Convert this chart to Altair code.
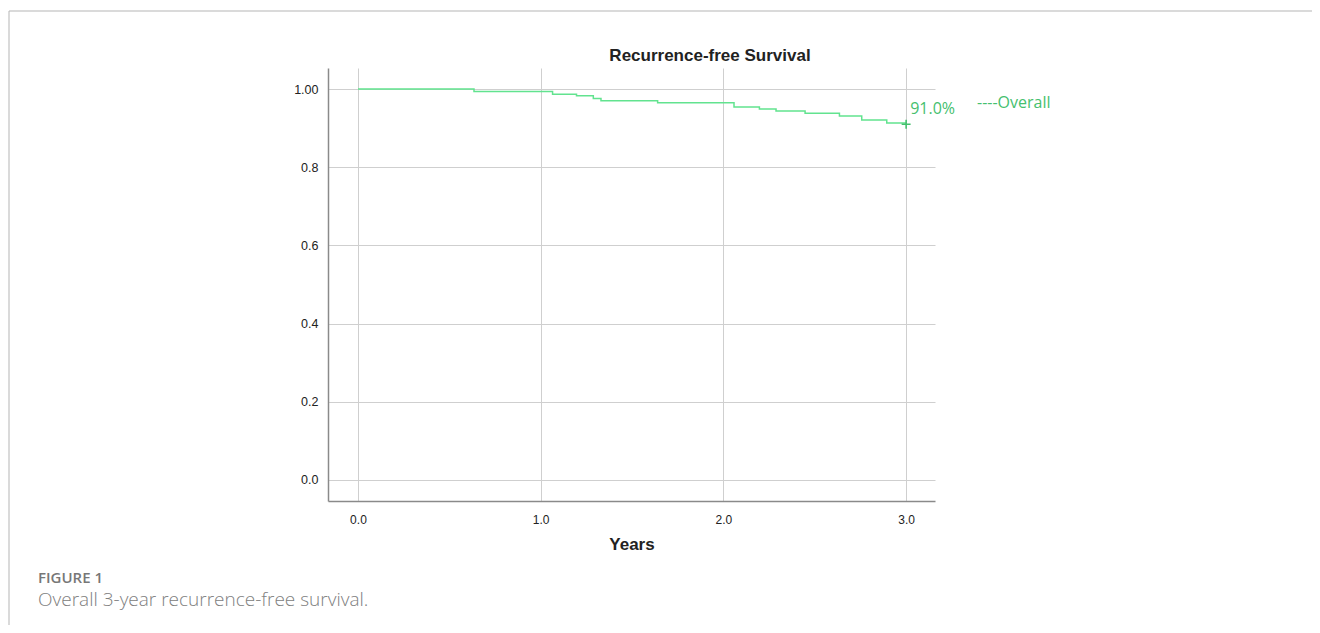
import altair as alt
import pandas as pd

# Kaplan-Meier step curve (years, survival)
years = [0.0, 0.635, 1.065, 1.196, 1.288, 1.33, 1.64, 2.058, 2.197, 2.288, 2.447, 2.635, 2.757, 2.894, 3.0]
surv = [1.0, 0.9936, 0.987, 0.983, 0.976, 0.970, 0.965, 0.954, 0.949, 0.944, 0.938, 0.931, 0.921, 0.913, 0.913]
censor_x = [3.0]
censor_y = [0.910]
x_ticks = [0, 1, 2, 3]
y_ticks = [0, 0.2, 0.4, 0.6, 0.8, 1.0]

LINE = "#62e38f"
TXT = "#45c06e"
FONT = "Liberation Sans"

df = pd.DataFrame({"Years": years, "S": surv})
cdf = pd.DataFrame({"Years": censor_x, "S": censor_y, "lab": ["91.0%"]})

xs = alt.Scale(domain=[-0.164, 3.158], nice=False, zero=False)
ys = alt.Scale(domain=[-0.054, 1.054], nice=False, zero=False)

xaxis = alt.Axis(values=x_ticks, format=".1f", ticks=False, grid=True, gridColor="#cfcfcf",
                 domainColor="#8a8a8a", domainWidth=1.5, labelFont=FONT, labelFontSize=12,
                 labelColor="#222", labelPadding=13, title="Years", titleFont=FONT,
                 titleFontSize=17, titleFontWeight="bold", titleColor="#222", titlePadding=11)
yaxis = alt.Axis(values=y_ticks, ticks=False, grid=True, gridColor="#cfcfcf",
                 labelExpr="datum.value == 1 ? '1.00' : format(datum.value, '.1f')",
                 domainColor="#8a8a8a", domainWidth=1.5, labelFont=FONT, labelFontSize=12.5,
                 labelColor="#222", labelPadding=10, title=None)

line = alt.Chart(df).mark_line(interpolate="step-after", color=LINE, strokeWidth=1.5).encode(
    x=alt.X("Years:Q", scale=xs, axis=xaxis),
    y=alt.Y("S:Q", scale=ys, axis=yaxis),
)

censor = alt.Chart(cdf).mark_point(shape="M-1,0L1,0M0,-1L0,1", filled=False, color=TXT,
                                   size=80, strokeWidth=1.6, opacity=1).encode(
    x=alt.X("Years:Q", scale=xs), y=alt.Y("S:Q", scale=ys))

pct = alt.Chart(cdf).mark_text(align="left", baseline="middle", dx=4, dy=-15, color=TXT,
                               font="Open Sans", fontSize=16).encode(
    x=alt.X("Years:Q", scale=xs), y=alt.Y("S:Q", scale=ys), text="lab:N")

legend = alt.Chart(pd.DataFrame({"t": ["----Overall"]})).mark_text(
    align="left", baseline="middle", color=TXT, font="Open Sans", fontSize=16).encode(
    x=alt.value(649), y=alt.value(35), text="t:N")

title = alt.Chart(pd.DataFrame({"t": ["Recurrence-free Survival"]})).mark_text(
    align="center", baseline="middle", color="#222", font=FONT, fontSize=17,
    fontWeight="bold").encode(x=alt.value(382), y=alt.value(-12), text="t:N")

frame = alt.Chart(pd.DataFrame({"a": [0]})).mark_rule(color="#b5b5b5", strokeWidth=1).encode(
    x=alt.value(-319), x2=alt.value(990), y=alt.value(-57))
frame2 = alt.Chart(pd.DataFrame({"a": [0]})).mark_rule(color="#b5b5b5", strokeWidth=1).encode(
    x=alt.value(-319), y=alt.value(-57), y2=alt.value(570))

cap1 = alt.Chart(pd.DataFrame({"t": ["FIGURE 1"]})).mark_text(
    align="left", baseline="alphabetic", color="#777", font="Open Sans", fontSize=15,
    fontWeight=600).encode(x=alt.value(-290), y=alt.value(515), text="t:N")
cap2 = alt.Chart(pd.DataFrame({"t": ["Overall 3-year recurrence-free survival."]})).mark_text(
    align="left", baseline="alphabetic", color="#808080", font="Open Sans", fontSize=19,
    fontWeight=300).encode(x=alt.value(-290), y=alt.value(538), text="t:N")

chart = alt.layer(line, censor, pct, legend, title, frame, frame2, cap1, cap2).properties(
    width=607, height=433,
    autosize=alt.AutoSizeParams(type="none"),
    padding={"left": 320, "top": 60, "right": 377, "bottom": 124},
).configure_view(stroke=None)

chart.save("out.html", embed_options={"renderer": "svg", "actions": False})
